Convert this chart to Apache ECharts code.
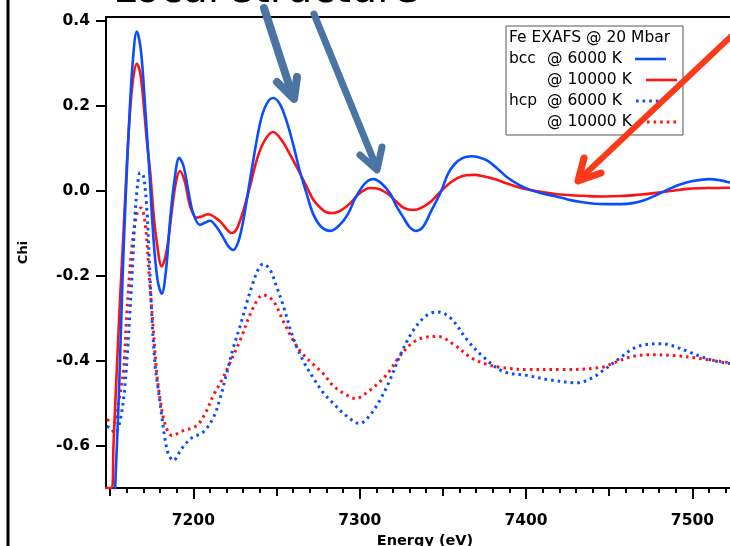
<!DOCTYPE html>
<html>
<head>
<meta charset="utf-8">
<script src="https://cdn.jsdelivr.net/npm/echarts@6/dist/echarts.min.js"></script>
<style>html,body{margin:0;padding:0;background:#fff;}#c{width:730px;height:546px;}</style>
</head>
<body>
<div id="c"></div>
<script>
// ---- data ----
const bcc6000E   = [7150,7153,7155.5,7157.5,7159.5,7161.5,7163.5,7166,7168.5,7171,7173.5,7176,7178.5,7181,7183.5,7186,7188.5,7191.5,7194,7197,7200,7204,7207,7210,7214,7218,7221,7224,7227,7230,7234,7240,7244,7248,7252,7256,7260,7264,7268,7272,7277,7282.5,7288,7293,7297,7301,7305,7308.5,7313,7318.5,7322,7326.5,7330,7334,7338,7343,7349,7353,7357,7362,7367,7372,7377,7383,7389,7396,7403,7410,7417,7425,7433,7441,7449,7457,7465,7471,7477,7485,7493,7501,7510,7517,7524,7532];
const bcc6000Chi = [-0.95,-0.70,-0.45,-0.20,0.0,0.17,0.30,0.376,0.33,0.20,0.05,-0.11,-0.21,-0.242,-0.19,-0.07,0.02,0.078,0.06,0.0,-0.054,-0.08,-0.075,-0.07,-0.085,-0.11,-0.13,-0.139,-0.12,-0.07,0.024,0.158,0.205,0.219,0.205,0.165,0.11,0.047,-0.005,-0.054,-0.085,-0.094,-0.08,-0.054,-0.02,0.007,0.024,0.028,0.018,-0.007,-0.035,-0.064,-0.085,-0.094,-0.085,-0.047,0.0,0.04,0.063,0.078,0.082,0.079,0.071,0.052,0.031,0.014,0.002,-0.006,-0.012,-0.02,-0.026,-0.03,-0.031,-0.031,-0.028,-0.022,-0.012,0.003,0.016,0.024,0.028,0.025,0.019,0.015];

const bcc10000E   = [7147,7151,7152,7154,7156,7158,7160,7162,7164,7166,7168,7170,7172,7174,7176,7178,7181,7184,7187,7189.5,7192,7195,7198,7202,7205,7209,7213,7217,7220,7223,7226,7230,7234,7238.5,7243,7248,7253,7258,7263,7268.5,7272,7276.5,7280,7284,7289,7294.5,7300,7306.5,7312,7317,7322,7326.5,7332,7337,7343,7349,7354,7359,7364,7369,7375,7381,7389,7397,7407,7417,7427,7437,7447,7457,7467,7477,7487,7497,7510,7532];
const bcc10000Chi = [-0.70,-0.70,-0.60,-0.42,-0.25,-0.10,0.06,0.19,0.27,0.30,0.28,0.21,0.12,0.047,-0.05,-0.12,-0.178,-0.14,-0.05,0.02,0.047,0.02,-0.035,-0.063,-0.06,-0.055,-0.062,-0.075,-0.09,-0.099,-0.09,-0.047,0.01,0.078,0.12,0.139,0.12,0.087,0.05,0.007,-0.02,-0.04,-0.05,-0.052,-0.045,-0.028,-0.005,0.007,0.004,-0.007,-0.025,-0.04,-0.045,-0.04,-0.024,0.0,0.018,0.031,0.037,0.038,0.034,0.028,0.017,0.007,-0.001,-0.007,-0.01,-0.012,-0.013,-0.012,-0.009,-0.005,0.0,0.005,0.007,0.008];

const hcp6000E   = [7148,7150,7153,7156,7159,7163,7165,7166.5,7168,7170,7172,7173.5,7175,7177,7179,7181,7183,7185,7188,7193,7199,7206,7212,7216,7220,7224,7228,7232,7236,7239,7242,7246,7250,7254,7260,7266,7272,7278,7284,7292,7300,7306,7312,7318,7324,7332,7340,7347,7355,7365,7374,7386,7401,7414,7431,7440,7446,7456,7464,7472,7481,7489,7497,7505,7513,7523,7532];
const hcp6000Chi = [-0.555,-0.558,-0.57,-0.541,-0.454,-0.21,-0.055,0.015,0.043,0.035,-0.04,-0.16,-0.29,-0.41,-0.47,-0.53,-0.585,-0.62,-0.635,-0.607,-0.582,-0.568,-0.534,-0.49,-0.43,-0.37,-0.32,-0.265,-0.215,-0.185,-0.172,-0.185,-0.225,-0.27,-0.346,-0.40,-0.44,-0.475,-0.50,-0.53,-0.548,-0.529,-0.494,-0.447,-0.39,-0.33,-0.294,-0.285,-0.301,-0.353,-0.39,-0.425,-0.435,-0.445,-0.452,-0.44,-0.424,-0.395,-0.372,-0.362,-0.36,-0.366,-0.378,-0.39,-0.40,-0.407,-0.41];

const hcp10000E   = [7148,7150,7153,7155,7158,7160,7163,7166,7168.5,7171,7174,7176,7178,7180,7182,7184.5,7187,7194,7202,7207,7212,7217,7222,7228,7236,7242,7248,7254,7259,7264,7271,7278,7284,7291,7297.6,7306,7312,7318,7323,7331,7339,7347,7356,7367,7376,7385,7401,7421,7445,7453,7461,7469,7477,7489,7501,7512,7523,7532];
const hcp10000Chi = [-0.54,-0.541,-0.545,-0.50,-0.424,-0.29,-0.134,-0.055,-0.04,-0.075,-0.228,-0.33,-0.43,-0.49,-0.535,-0.565,-0.576,-0.565,-0.553,-0.525,-0.482,-0.447,-0.405,-0.353,-0.275,-0.245,-0.259,-0.306,-0.345,-0.376,-0.405,-0.43,-0.459,-0.478,-0.489,-0.47,-0.45,-0.424,-0.395,-0.36,-0.345,-0.343,-0.36,-0.393,-0.408,-0.416,-0.421,-0.421,-0.416,-0.405,-0.393,-0.387,-0.386,-0.388,-0.393,-0.399,-0.405,-0.408];

const yTicks = [-0.6,-0.4,-0.2,0.0,0.2,0.4];
const xMajor = [7200,7300,7400,7500];
const xMid   = [7150,7250,7350,7450];
const xMinor = [7150,7160,7170,7180,7190,7210,7220,7230,7240,7260,7270,7280,7290,7310,7320,7330,7340,7360,7370,7380,7390,7410,7420,7430,7440,7460,7470,7480,7490,7510,7520,7530];

const legendTitle = 'Fe EXAFS @ 20 Mbar';
const legendRows = [
  {left:'bcc', right:'@ 6000 K'},
  {left:'', right:'@ 10000 K'},
  {left:'hcp', right:'@ 6000 K'},
  {left:'', right:'@ 10000 K'}
];

const BLUE = '#0a4cff', RED = '#ff1212';
const zip = (xs, ys) => xs.map((x, i) => [x, ys[i]]);

const chart = echarts.init(document.getElementById('c'), null, {renderer:'canvas'});
const XMIN = 7147.5, XMAX = 7531;
const baseX = {type:'value', min:XMIN, max:XMAX, position:'bottom', splitLine:{show:false}};
const axisFont = {fontFamily:'DejaVu Sans', fontWeight:'bold', fontSize:15.5, color:'#000'};

const lineStyle = (c, dotted) => ({color:c, width: dotted ? 3 : 2.6, type: dotted ? [2.6, 4] : 'solid'});

const option = {
  animation:false,
  backgroundColor:'#fff',
  grid:{left:106, top:17, right:-14, bottom:58, containLabel:false, outerBoundsMode:'none'},
  xAxis:[
    Object.assign({}, baseX, {
      name:'Energy (eV)', nameLocation:'middle', nameGap:45,
      nameTextStyle:Object.assign({}, axisFont, {fontSize:14.5}),
      axisLine:{show:true, onZero:false, lineStyle:{color:'#000', width:2}},
      axisTick:{show:true, length:11, lineStyle:{color:'#000', width:2}, customValues:xMajor},
      axisLabel:Object.assign({show:true, margin:25, customValues:xMajor, formatter:v => String(Math.round(v))}, axisFont)
    }),
    Object.assign({}, baseX, {
      axisLine:{show:false, onZero:false},
      axisTick:{show:true, length:8, lineStyle:{color:'#000', width:2}, customValues:xMid},
      axisLabel:{show:false}
    }),
    Object.assign({}, baseX, {
      axisLine:{show:false, onZero:false},
      axisTick:{show:true, length:5, lineStyle:{color:'#000', width:2}, customValues:xMinor},
      axisLabel:{show:false}
    }),
    Object.assign({}, baseX, {
      position:'top',
      axisLine:{show:true, onZero:false, lineStyle:{color:'#000', width:2}},
      axisTick:{show:false}, axisLabel:{show:false}
    })
  ],
  yAxis:{
    type:'value', min:-0.7, max:0.41,
    name:'Chi', nameLocation:'middle', nameGap:76, nameRotate:90,
    nameTextStyle:Object.assign({}, axisFont, {fontSize:13}),
    splitLine:{show:false},
    axisLine:{show:true, onZero:false, lineStyle:{color:'#000', width:2}},
    axisTick:{show:true, length:10, lineStyle:{color:'#000', width:2}, customValues:yTicks},
    axisLabel:Object.assign({show:true, margin:16, customValues:yTicks, formatter:v => v.toFixed(1)}, axisFont)
  },
  series:[
    {name:'hcp 10000', type:'line', data:zip(hcp10000E, hcp10000Chi), smooth:0.35, showSymbol:false, clip:true, lineStyle:lineStyle(RED, true)},
    {name:'hcp 6000', type:'line', data:zip(hcp6000E, hcp6000Chi), smooth:0.35, showSymbol:false, clip:true, lineStyle:lineStyle(BLUE, true)},
    {name:'bcc 10000', type:'line', data:zip(bcc10000E, bcc10000Chi), smooth:0.35, showSymbol:false, clip:true, lineStyle:lineStyle(RED, false)},
    {name:'bcc 6000', type:'line', data:zip(bcc6000E, bcc6000Chi), smooth:0.35, showSymbol:false, clip:true, lineStyle:lineStyle(BLUE, false)}
  ],
  graphic:[]
};

// slide decorations
const g = option.graphic;
g.push({type:'line', shape:{x1:8, y1:0, x2:8, y2:546}, style:{stroke:'#000', lineWidth:3}, z:100});
g.push({type:'text', x:113, y:-29, style:{text:'Local structure', font:'41px "DejaVu Sans"', fill:'#000', textVerticalAlign:'top', verticalAlign:'top'}, z:100});
const STEEL = '#4a74a2', ORANGE = '#fb3a1a';
g.push({type:'polyline', shape:{points:[[264,8],[293,97]]}, style:{stroke:STEEL, lineWidth:8, lineCap:'round', fill:null}, z:100});
g.push({type:'polyline', shape:{points:[[277,82],[294,99],[297,77]]}, style:{stroke:STEEL, lineWidth:8, lineCap:'round', lineJoin:'round', fill:null}, z:100});
g.push({type:'polyline', shape:{points:[[314,14],[376,166]]}, style:{stroke:STEEL, lineWidth:7, lineCap:'round', fill:null}, z:100});
g.push({type:'polyline', shape:{points:[[360,155],[377,170],[382,147]]}, style:{stroke:STEEL, lineWidth:7, lineCap:'round', lineJoin:'round', fill:null}, z:100});
g.push({type:'polyline', shape:{points:[[740,28],[582,177]]}, style:{stroke:ORANGE, lineWidth:6, lineCap:'round', fill:null}, z:101});
g.push({type:'polyline', shape:{points:[[584,158],[578,181],[601,173]]}, style:{stroke:ORANGE, lineWidth:7, lineCap:'round', lineJoin:'round', fill:null}, z:101});

// legend box
const LX = 506, LY = 26, LW = 177, LH = 109, LS = 21;
g.push({type:'rect', shape:{x:LX, y:LY, width:LW, height:LH}, style:{fill:'#fff', stroke:'#555', lineWidth:1}, z:90});
const lfont = '15.5px "DejaVu Sans"';
g.push({type:'text', x:LX+3, y:LY+12, style:{text:legendTitle, font:lfont, fill:'#000', textVerticalAlign:'middle'}, z:91});
const sampleColors = [BLUE, RED, BLUE, RED];
const sampleX = [[635,666],[646,677],[636,666],[647,677]];
legendRows.forEach((r, i) => {
  const y = LY + 12 + LS * (i + 1);
  if (r.left) g.push({type:'text', x:LX+3, y:y, style:{text:r.left, font:lfont, fill:'#000', textVerticalAlign:'middle'}, z:91});
  g.push({type:'text', x:LX+41, y:y, style:{text:r.right, font:lfont, fill:'#000', textVerticalAlign:'middle'}, z:91});
  const dotted = i >= 2;
  g.push({type:'line', shape:{x1:sampleX[i][0], y1:y, x2:sampleX[i][1], y2:y},
    style:{stroke:sampleColors[i], lineWidth: dotted ? 3 : 2.6, lineDash: dotted ? [2.6, 4] : null}, z:92});
});

chart.setOption(option);
</script>
</body>
</html>
